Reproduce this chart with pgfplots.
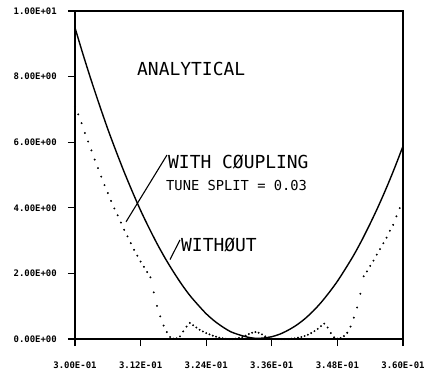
\documentclass[border=0pt]{standalone}
\usepackage{fontspec}
\setmonofont{DejaVu Sans Mono}
\usepackage{pgfplots}
\pgfplotsset{compat=1.18}
\begin{document}
\begin{tikzpicture}
\begin{axis}[
  scale only axis, width=328bp, height=328bp,
  at={(0,0)}, anchor=south west,
  xmin=0.30, xmax=0.36, ymin=0, ymax=10,
  xtick={0.300,0.312,0.324,0.336,0.348,0.360},
  xticklabels={3.00E-01,3.12E-01,3.24E-01,3.36E-01,3.48E-01,3.60E-01},
  ytick={0,2,4,6,8,10},
  yticklabels={0.00E+00,2.00E+00,4.00E+00,6.00E+00,8.00E+00,1.00E+01},
  scaled ticks=false,
  tick pos=left, tick align=outside, major tick length=7bp,
  tick style={line width=1.2bp, black},
  axis line style={line width=1.5bp},
  tick label style={font=\ttfamily\bfseries\fontsize{9}{10}\selectfont, inner sep=0pt},
  xticklabel style={anchor=north, yshift=-16bp},
  yticklabel style={anchor=east, xshift=-11bp},
  clip=false,
]
% WITH COUPLING (solid)
\addplot[black, line width=1.4bp, smooth] coordinates {
(0.3000,9.49) (0.3015,8.66) (0.3030,7.87) (0.3045,7.12) (0.3060,6.40)
(0.3075,5.73) (0.3090,5.09) (0.3105,4.49) (0.3120,3.92) (0.3135,3.40)
(0.3150,2.91) (0.3165,2.46) (0.3180,2.05) (0.3195,1.67) (0.3210,1.33)
(0.3225,1.04) (0.3240,0.77) (0.3255,0.55) (0.3270,0.37) (0.3285,0.22)
(0.3300,0.13) (0.3315,0.06) (0.3330,0.02) (0.3345,0.03) (0.3360,0.07)
(0.3375,0.15) (0.3390,0.27) (0.3405,0.42) (0.3420,0.61) (0.3435,0.84)
(0.3450,1.11) (0.3465,1.42) (0.3480,1.76) (0.3495,2.15) (0.3510,2.56)
(0.3525,3.02) (0.3540,3.52) (0.3555,4.05) (0.3570,4.62) (0.3585,5.23)
(0.3600,5.88)
};
% WITHOUT (dotted)
\addplot[only marks, mark=*, mark size=0.75bp, black] coordinates {
(0.3000,7.10) (0.3006,6.85) (0.3012,6.58) (0.3018,6.28) (0.3024,6.02)
(0.3030,5.75) (0.3036,5.47) (0.3042,5.21) (0.3048,4.95) (0.3054,4.69)
(0.3060,4.45) (0.3066,4.21) (0.3072,3.98) (0.3078,3.77) (0.3084,3.55)
(0.3090,3.33) (0.3096,3.13) (0.3102,2.92) (0.3108,2.72) (0.3114,2.54)
(0.3120,2.36) (0.3126,2.20) (0.3132,2.04) (0.3138,1.88) (0.3144,1.42)
(0.3150,1.01) (0.3156,0.69) (0.3162,0.41) (0.3168,0.21) (0.3174,0.06)
(0.3180,0.01) (0.3186,0.02) (0.3192,0.08) (0.3198,0.23) (0.3204,0.38)
(0.3210,0.49) (0.3216,0.42) (0.3222,0.35) (0.3228,0.28) (0.3234,0.23)
(0.3240,0.18) (0.3246,0.14) (0.3252,0.10) (0.3258,0.07) (0.3264,0.04)
(0.3270,0.02) (0.3276,0.01) (0.3282,0.00) (0.3288,0.00) (0.3294,0.01)
(0.3300,0.03) (0.3306,0.06) (0.3312,0.10) (0.3318,0.15) (0.3324,0.19)
(0.3330,0.21) (0.3336,0.19) (0.3342,0.14) (0.3348,0.08) (0.3354,0.04)
(0.3360,0.01) (0.3366,0.00) (0.3372,0.00) (0.3378,0.00) (0.3384,0.00)
(0.3390,0.00) (0.3396,0.01) (0.3402,0.02) (0.3408,0.04) (0.3414,0.06)
(0.3420,0.09) (0.3426,0.13) (0.3432,0.18) (0.3438,0.24) (0.3444,0.31)
(0.3450,0.39) (0.3456,0.47) (0.3462,0.35) (0.3468,0.18) (0.3474,0.05)
(0.3480,0.01) (0.3486,0.03) (0.3492,0.09) (0.3498,0.19) (0.3504,0.38)
(0.3510,0.65) (0.3516,0.96) (0.3522,1.38) (0.3528,1.91) (0.3534,2.06)
(0.3540,2.23) (0.3546,2.39) (0.3552,2.57) (0.3558,2.74) (0.3564,2.92)
(0.3570,3.09) (0.3576,3.30) (0.3582,3.48) (0.3588,3.74) (0.3594,3.99)
(0.3600,4.12)
};
% annotations
\node[anchor=west, inner sep=0pt, font=\ttfamily\fontsize{18}{20}\selectfont] at (axis cs:0.31134,8.23) {ANALYTICAL};
\node[anchor=west, inner sep=0pt, font=\ttfamily\fontsize{18}{20}\selectfont] at (axis cs:0.31701,5.40) {WITH CØUPLING};
\node[anchor=west, inner sep=0pt, font=\ttfamily\fontsize{13.8}{16}\selectfont] at (axis cs:0.31665,4.67) {TUNE SPLIT = 0.03};
\node[anchor=west, inner sep=0pt, font=\ttfamily\fontsize{18}{20}\selectfont] at (axis cs:0.31939,2.87) {WITHØUT};
\draw[line width=1.1bp] (axis cs:0.30933,3.57) -- (axis cs:0.31683,5.61);
\draw[line width=1.1bp] (axis cs:0.31738,2.42) -- (axis cs:0.3192,3.02);
\end{axis}
\pgfresetboundingbox
\path[use as bounding box] (-75bp,-37bp) rectangle (358bp,339bp);
\end{tikzpicture}
\end{document}
